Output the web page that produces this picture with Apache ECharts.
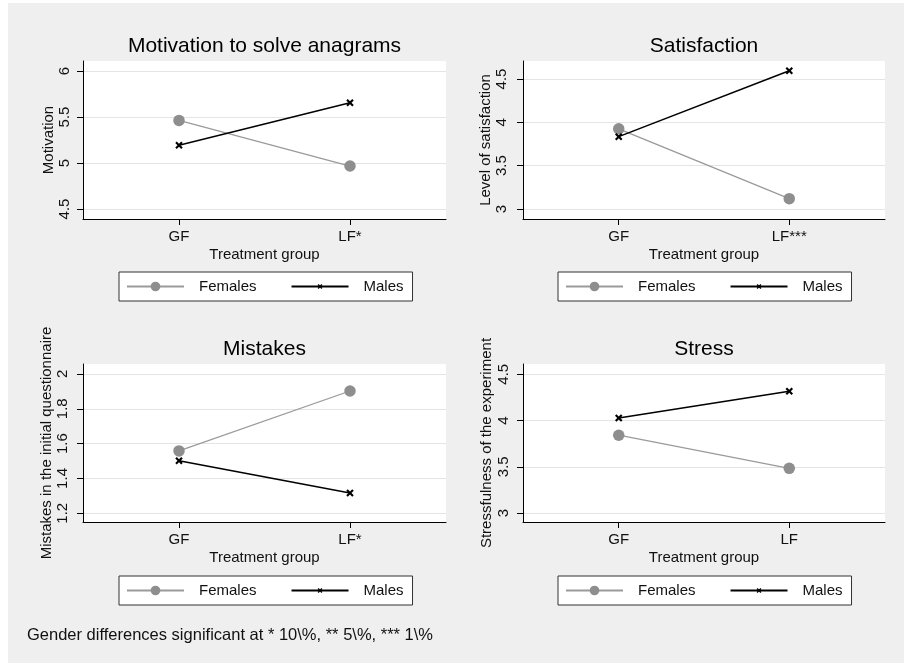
<!DOCTYPE html>
<html>
<head>
<meta charset="utf-8">
<script src="https://cdn.jsdelivr.net/npm/echarts@6/dist/echarts.min.js"></script>
<style>
  html, body { margin: 0; padding: 0; background: #ffffff; }
  #chart { width: 904px; height: 663px; }
</style>
</head>
<body>
<div id="chart"></div>
<script>
// ---- Data ----
const seriesNames = ['Females', 'Males'];

const titleMotivation = 'Motivation to solve anagrams';
const yNameMotivation = 'Motivation';
const xLabelsMotivation = ['GF', 'LF*'];
const femalesMotivation = [5.463, 4.967];
const malesMotivation = [5.192, 5.655];
const ticksMotivation = [4.5, 5, 5.5, 6];

const titleSatisfaction = 'Satisfaction';
const yNameSatisfaction = 'Level of satisfaction';
const xLabelsSatisfaction = ['GF', 'LF***'];
const femalesSatisfaction = [3.925, 3.12];
const malesSatisfaction = [3.835, 4.596];
const ticksSatisfaction = [3, 3.5, 4, 4.5];

const titleMistakes = 'Mistakes';
const yNameMistakes = 'Mistakes in the initial questionnaire';
const xLabelsMistakes = ['GF', 'LF*'];
const femalesMistakes = [1.558, 1.902];
const malesMistakes = [1.502, 1.316];
const ticksMistakes = [1.2, 1.4, 1.6, 1.8, 2];

const titleStress = 'Stress';
const yNameStress = 'Stressfulness of the experiment';
const xLabelsStress = ['GF', 'LF'];
const femalesStress = [3.841, 3.483];
const malesStress = [4.028, 4.316];
const ticksStress = [3, 3.5, 4, 4.5];

const xAxisTitle = 'Treatment group';
const footnote = 'Gender differences significant at * 10\\%, ** 5\\%, *** 1\\%';

// ---- Layout / style ----
const FONT = '"Liberation Sans", Arial, Helvetica, sans-serif';
const xPos = [1, 2];
const X_MIN = 0.4386, X_MAX = 2.5614;

const crossPath = 'path://M-5,-5L-5,-5M15,15L15,15M0,2L2,0L5,3L8,0L10,2L7,5L10,8L8,10L5,7L2,10L0,8L3,5Z';

const panels = [
  { title: titleMotivation, yName: yNameMotivation, xLabels: xLabelsMotivation, f: femalesMotivation, m: malesMotivation, ticks: ticksMotivation,
    left: 83, top: 61, width: 363, yMin: 4.391, yMax: 6.109, labelMargin: 11, nameGap: 27, legendLeft: 119, legendTop: 272 },
  { title: titleSatisfaction, yName: yNameSatisfaction, xLabels: xLabelsSatisfaction, f: femalesSatisfaction, m: malesSatisfaction, ticks: ticksSatisfaction,
    left: 523, top: 61, width: 362, yMin: 2.885, yMax: 4.708, labelMargin: 14, nameGap: 30, legendLeft: 558, legendTop: 272 },
  { title: titleMistakes, yName: yNameMistakes, xLabels: xLabelsMistakes, f: femalesMistakes, m: malesMistakes, ticks: ticksMistakes,
    left: 83, top: 364, width: 363, yMin: 1.15, yMax: 2.057, labelMargin: 13, nameGap: 27, legendLeft: 119, legendTop: 576 },
  { title: titleStress, yName: yNameStress, xLabels: xLabelsStress, f: femalesStress, m: malesStress, ticks: ticksStress,
    left: 523, top: 364, width: 362, yMin: 2.903, yMax: 4.611, labelMargin: 12, nameGap: 29, legendLeft: 558, legendTop: 576 }
];
const PLOT_H = 158;

const option = {
  animation: false,
  textStyle: { fontFamily: FONT },
  title: [], grid: [], xAxis: [], yAxis: [], series: [], legend: [],
  graphic: [
    { type: 'rect', left: 8, top: 3, shape: { width: 896, height: 660 }, style: { fill: '#efefef' }, z: -10 },
    { type: 'text', left: 27, top: 627, style: { text: footnote, font: '16.5px ' + FONT, fill: '#111' } }
  ]
};

panels.forEach((p, i) => {
  option.title.push({
    text: p.title, left: p.left + p.width / 2, top: p.top - 25, textAlign: 'center', padding: 0,
    textStyle: { fontSize: 21, fontWeight: 'normal', color: '#000', fontFamily: FONT }
  });
  option.grid.push({
    left: p.left, top: p.top, width: p.width, height: PLOT_H,
    show: true, backgroundColor: '#ffffff', borderWidth: 0, containLabel: false
  });
  option.xAxis.push({
    type: 'value', gridIndex: i, min: X_MIN, max: X_MAX,
    name: xAxisTitle, nameLocation: 'middle', nameGap: 28.5,
    nameTextStyle: { fontSize: 15, color: '#111', fontFamily: FONT },
    axisLine: { show: true, onZero: false, lineStyle: { color: '#000', width: 1 } },
    axisTick: { show: true, length: 6, customValues: xPos, lineStyle: { color: '#000' } },
    axisLabel: { customValues: xPos, margin: 10.5, fontSize: 15, color: '#111', fontFamily: FONT,
      formatter: (v) => p.xLabels[Math.round(v) - 1] },
    splitLine: { show: false }
  });
  option.yAxis.push({
    type: 'value', gridIndex: i, min: p.yMin, max: p.yMax,
    name: p.yName, nameLocation: 'middle', nameGap: p.nameGap, nameRotate: 90,
    nameTextStyle: { fontSize: 15, color: '#111', fontFamily: FONT },
    axisLine: { show: true, onZero: false, lineStyle: { color: '#000', width: 1 } },
    axisTick: { show: true, length: 6, customValues: p.ticks, lineStyle: { color: '#000' } },
    axisLabel: { customValues: p.ticks, rotate: 90, margin: p.labelMargin, fontSize: 15, color: '#111', fontFamily: FONT },
    splitLine: { show: true, lineStyle: { color: '#e4e4e4', width: 1.2 } }
  });
  option.series.push({
    name: seriesNames[0], type: 'line', xAxisIndex: i, yAxisIndex: i,
    data: p.f.map((v, k) => [xPos[k], v]),
    symbol: 'circle', symbolSize: 11.5,
    itemStyle: { color: '#8e8e8e', borderWidth: 0 },
    lineStyle: { color: '#9a9a9a', width: 1.3 },
    z: 2
  });
  option.series.push({
    name: seriesNames[1], type: 'line', xAxisIndex: i, yAxisIndex: i,
    data: p.m.map((v, k) => [xPos[k], v]),
    symbol: crossPath, symbolSize: 15, symbolKeepAspect: true,
    itemStyle: { color: '#000', borderWidth: 0 },
    lineStyle: { color: '#000', width: 1.5 },
    z: 3
  });
  option.legend.push({
    data: seriesNames, left: p.legendLeft, top: p.legendTop, orient: 'horizontal',
    selectedMode: false, backgroundColor: '#ffffff', borderColor: '#333', borderWidth: 1, borderRadius: 0,
    padding: [7, 9, 7, 7], itemWidth: 57, itemHeight: 12, itemGap: 34,
    textStyle: { fontSize: 15, color: '#111', fontFamily: FONT, padding: [0, 0, 0, 10] }
  });
});

const chart = echarts.init(document.getElementById('chart'), null, { renderer: 'canvas' });
chart.setOption(option);
</script>
</body>
</html>
